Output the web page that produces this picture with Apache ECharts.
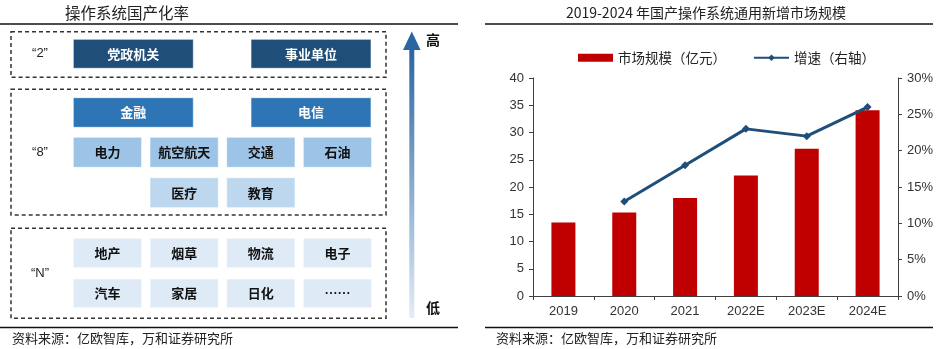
<!DOCTYPE html>
<html><head><meta charset="utf-8">
<script src="https://cdn.jsdelivr.net/npm/echarts@6/dist/echarts.min.js"></script>
<style>html,body{margin:0;padding:0;background:#fff}#c{width:945px;height:349px}</style>
</head><body><div id="c"></div>
<script>
// ---- Right chart data ----
const categories = ['2019', '2020', '2021', '2022E', '2023E', '2024E'];
const marketSize = [13.5, 15.3, 18, 22.1, 27, 34.1];          // 亿元
const growthRate = [null, 0.13, 0.18, 0.23, 0.22, 0.26];      // 右轴
const seriesNames = ['市场规模（亿元）', '增速（右轴）'];
const chartTitle = '2019-2024 年国产操作系统通用新增市场规模';
const sourceText = '资料来源：亿欧智库，万和证券研究所';

// ---- Left diagram text ----
const leftTitle = '操作系统国产化率';
const tierLabels = ['“2”', '“8”', '“N”'];
const tier2Units = ['党政机关', '事业单位'];
const tier8Main = ['金融', '电信'];
const tier8Row1 = ['电力', '航空航天', '交通', '石油'];
const tier8Row2 = ['医疗', '教育'];
const tierNRow1 = ['地产', '烟草', '物流', '电子'];
const tierNRow2 = ['汽车', '家居', '日化', '……'];
const arrowLabels = ['高', '低'];

const CJK = '"Noto Sans CJK SC", sans-serif';
const LAT = '"Liberation Sans", Arial, sans-serif';

const g = [];
function txt(x, y, s, size, color, weight, family, align) {
  g.push({ type: 'text', x: x, y: y, silent: true,
    style: { text: s, fill: color || '#000', font: (weight || 'normal') + ' ' + size + 'px ' + (family || CJK),
      align: align || 'center', verticalAlign: 'middle' } });
}
function rect(x, y, w, h, fill, label, tcolor) {
  g.push({ type: 'rect', shape: { x: x, y: y, width: w, height: h }, style: { fill: fill, stroke: 'rgba(255,255,255,0.6)', lineWidth: 1 } });
  txt(x + w / 2, y + h / 2, label, 13, tcolor, 'bold');
}
function dashBox(x, y, w, h) {
  g.push({ type: 'rect', shape: { x: x, y: y, width: w, height: h },
    style: { fill: 'none', stroke: '#333', lineWidth: 1.5, lineDash: [4, 3] } });
}
function hline(x1, x2, y) {
  g.push({ type: 'line', shape: { x1: x1, y1: y, x2: x2, y2: y }, style: { stroke: '#111', lineWidth: 1.5 } });
}

// titles & rules
txt(127, 13, leftTitle, 15.5, '#222');
txt(706, 13, chartTitle, 14, '#222');
hline(0, 458, 24); hline(485, 933, 24);
hline(0, 458, 327.5); hline(485, 933, 327.5);
txt(12, 338, sourceText, 13, '#222', 'normal', CJK, 'left');
txt(496, 338, sourceText, 13, '#222', 'normal', CJK, 'left');

// dashed tiers
dashBox(11, 31.7, 375, 45.6);
dashBox(11, 89.3, 375, 125.7);
dashBox(11, 228.3, 375, 90);
txt(40, 53, tierLabels[0], 13, '#222', 'normal', LAT);
txt(40, 152, tierLabels[1], 13, '#222', 'normal', LAT);
txt(40, 273, tierLabels[2], 13, '#222', 'normal', LAT);

const col2 = [73.3, 251], w2 = 120;
const col4 = [73.3, 150, 226.7, 303.3], w4 = 68.3;
tier2Units.forEach((s, i) => rect(col2[i], 39.3, w2, 29, '#1F4E79', s, '#fff'));
tier8Main.forEach((s, i) => rect(col2[i], 97.7, w2, 29.6, '#2E75B6', s, '#fff'));
tier8Row1.forEach((s, i) => rect(col4[i], 137.3, w4, 30, '#9DC3E6', s, '#111'));
tier8Row2.forEach((s, i) => rect(col4[i + 1], 177.7, w4, 30, '#BDD7EE', s, '#111'));
tierNRow1.forEach((s, i) => rect(col4[i], 238.3, w4, 29.4, '#DEEBF7', s, '#111'));
tierNRow2.forEach((s, i) => rect(col4[i], 279, w4, 28.7, '#DEEBF7', s, '#111'));

// arrow
g.push({ type: 'rect', shape: { x: 409.3, y: 48, width: 5, height: 270 },
  style: { fill: { type: 'linear', x: 0, y: 0, x2: 0, y2: 1,
    colorStops: [{ offset: 0, color: '#2A65A0' }, { offset: 1, color: '#E2EDF8' }] } } });
g.push({ type: 'polygon', shape: { points: [[411.8, 31.5], [403, 50], [420.6, 50]] }, style: { fill: '#2A66A2' } });
txt(433, 40, arrowLabels[0], 14, '#111', 'bold');
txt(433, 308, arrowLabels[1], 14, '#111', 'bold');

const chart = echarts.init(document.getElementById('c'), null, { renderer: 'canvas' });
const axisLine = { show: true, lineStyle: { color: '#404040', width: 1 } };
chart.setOption({
  animation: false,
  backgroundColor: '#fff',
  textStyle: { fontFamily: LAT },
  legend: {
    left: 573, top: 46, itemWidth: 35, itemHeight: 8, itemGap: 27,
    textStyle: { fontFamily: CJK, fontSize: 13.5, color: '#222', padding: [0, 0, 0, 0] },
    data: [{ name: seriesNames[0], icon: 'rect' }, { name: seriesNames[1] }]
  },
  grid: { left: 533, right: 47, top: 78, bottom: 53, containLabel: false },
  xAxis: {
    type: 'category', data: categories,
    axisLine: axisLine,
    axisTick: { show: true, inside: false, length: 4, lineStyle: { color: '#404040' } },
    axisLabel: { color: '#333', fontSize: 13, margin: 9, fontFamily: LAT }
  },
  yAxis: [{
    type: 'value', min: 0, max: 40, interval: 5,
    axisLine: axisLine,
    axisTick: { show: true, length: 4, lineStyle: { color: '#404040' } },
    axisLabel: { color: '#333', fontSize: 13, margin: 9, fontFamily: LAT },
    splitLine: { show: false }
  }, {
    type: 'value', min: 0, max: 0.3, interval: 0.05, position: 'right',
    axisLine: axisLine,
    axisTick: { show: true, length: 4, lineStyle: { color: '#404040' } },
    axisLabel: { color: '#333', fontSize: 13, margin: 9, fontFamily: LAT,
      formatter: v => Math.round(v * 100) + '%' },
    splitLine: { show: false }
  }],
  series: [{
    name: seriesNames[0], type: 'bar', data: marketSize, barWidth: 24,
    itemStyle: { color: '#C00000' }
  }, {
    name: seriesNames[1], type: 'line', yAxisIndex: 1, data: growthRate,
    symbol: 'diamond', symbolSize: 8, connectNulls: false,
    lineStyle: { color: '#1F4E79', width: 3 },
    itemStyle: { color: '#1F4E79' }
  }],
  graphic: g
});
</script></body></html>
